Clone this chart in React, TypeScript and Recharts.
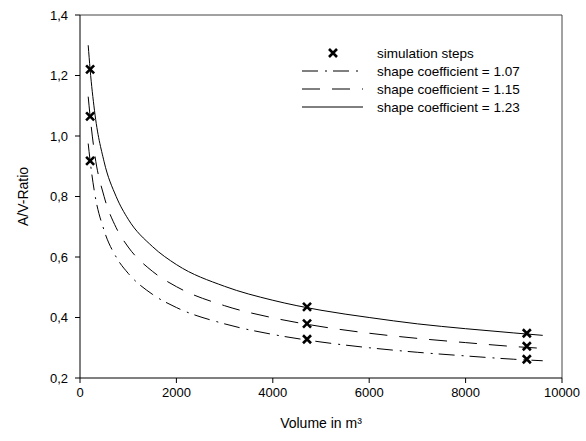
import { ComposedChart, Line, Scatter, XAxis, YAxis, ReferenceLine, Label } from 'recharts';

const curveVolumes = [170, 210, 300, 500, 750, 1000, 1500, 2000, 3000, 4000, 5000, 6000, 7000, 8000, 9000, 9600];
const ratio107 = [0.975, 0.918, 0.815, 0.688, 0.6, 0.546, 0.477, 0.433, 0.379, 0.344, 0.319, 0.3, 0.285, 0.273, 0.262, 0.257];
const ratio115 = [1.13, 1.065, 0.945, 0.8, 0.697, 0.633, 0.553, 0.502, 0.439, 0.399, 0.37, 0.348, 0.331, 0.317, 0.304, 0.298];
const ratio123 = [1.3, 1.22, 1.085, 0.915, 0.8, 0.725, 0.635, 0.575, 0.503, 0.457, 0.424, 0.4, 0.379, 0.363, 0.349, 0.341];

// simulation steps
const stepVolumes = [210, 4710, 9270];
const stepRatio107 = [0.918, 0.328, 0.262];
const stepRatio115 = [1.065, 0.38, 0.305];
const stepRatio123 = [1.22, 0.435, 0.348];

const xTicks = [0, 2000, 4000, 6000, 8000, 10000];
const yTicks = [0.2, 0.4, 0.6, 0.8, 1.0, 1.2, 1.4];

const toRows = (vals: number[]) => curveVolumes.map((v, i) => ({ v, r: vals[i] }));
const steps = [stepRatio107, stepRatio115, stepRatio123].flatMap((arr) =>
  stepVolumes.map((v, i) => ({ v, r: arr[i] }))
);

const font = '"Liberation Sans", Arial, sans-serif';
const dashDot = '16 7 2 6';
const dashed = '18 12';

const Cross = (props: any) => {
  const { cx, cy } = props;
  const s = 4;
  return (
    <path
      d={`M${cx - s},${cy - s}L${cx + s},${cy + s}M${cx - s},${cy + s}L${cx + s},${cy - s}`}
      stroke="#000"
      strokeWidth={2.6}
    />
  );
};

function LegendBox() {
  const rows = [
    { label: 'simulation steps', dash: null },
    { label: 'shape coefficient = 1.07', dash: dashDot },
    { label: 'shape coefficient = 1.15', dash: dashed },
    { label: 'shape coefficient = 1.23', dash: '' },
  ];
  return (
    <svg width={280} height={80} style={{ position: 'absolute', left: 290, top: 42 }}>
      {rows.map((row, i) => {
        const y = 11 + i * 18;
        return (
          <g key={row.label}>
            {row.dash === null ? (
              <Cross cx={43} cy={y} />
            ) : (
              <line x1={12} x2={73} y1={y} y2={y} stroke="#000" strokeWidth={1} strokeDasharray={row.dash || undefined} />
            )}
            <text x={87} y={y + 5} fontSize={13.5} fontFamily={font} fill="#000">
              {row.label}
            </text>
          </g>
        );
      })}
    </svg>
  );
}

export default function App() {
  return (
    <div style={{ position: 'absolute', left: 0, top: 0, width: 586, height: 441, background: '#fff' }}>
      <ComposedChart
        width={586}
        height={441}
        margin={{ top: 15, right: 24, bottom: 33, left: 20 }}
        style={{ fontFamily: font }}
      >
        <XAxis
          type="number"
          dataKey="v"
          domain={[0, 10000]}
          ticks={xTicks}
          allowDataOverflow
          height={30}
          stroke="#000"
          tickSize={5}
          tickMargin={5}
          tick={{ fill: '#000', fontSize: 13 }}
        >
          <Label value="Volume in m³" position="insideBottom" offset={-20} fill="#000" fontSize={14} />
        </XAxis>
        <YAxis
          type="number"
          dataKey="r"
          domain={[0.2, 1.4]}
          ticks={yTicks}
          allowDataOverflow
          width={60}
          stroke="#000"
          tickSize={5}
          tickMargin={7}
          tick={{ fill: '#000', fontSize: 13 }}
          tickFormatter={(v: number) => v.toFixed(1).replace('.', ',')}
        >
          <Label value="A/V-Ratio" angle={-90} position="insideLeft" offset={3} fill="#000" fontSize={14} style={{ textAnchor: 'middle' }} />
        </YAxis>
        <ReferenceLine y={1.4} stroke="#444" strokeWidth={1} />
        <ReferenceLine x={10000} stroke="#444" strokeWidth={1} />
        <Line data={toRows(ratio107)} dataKey="r" type="monotone" stroke="#000" strokeWidth={1} strokeDasharray={dashDot} dot={false} isAnimationActive={false} />
        <Line data={toRows(ratio115)} dataKey="r" type="monotone" stroke="#000" strokeWidth={1} strokeDasharray={dashed} dot={false} isAnimationActive={false} />
        <Line data={toRows(ratio123)} dataKey="r" type="monotone" stroke="#000" strokeWidth={1} dot={false} isAnimationActive={false} />
        <Scatter data={steps} dataKey="r" shape={<Cross />} isAnimationActive={false} />
      </ComposedChart>
      <LegendBox />
    </div>
  );
}
